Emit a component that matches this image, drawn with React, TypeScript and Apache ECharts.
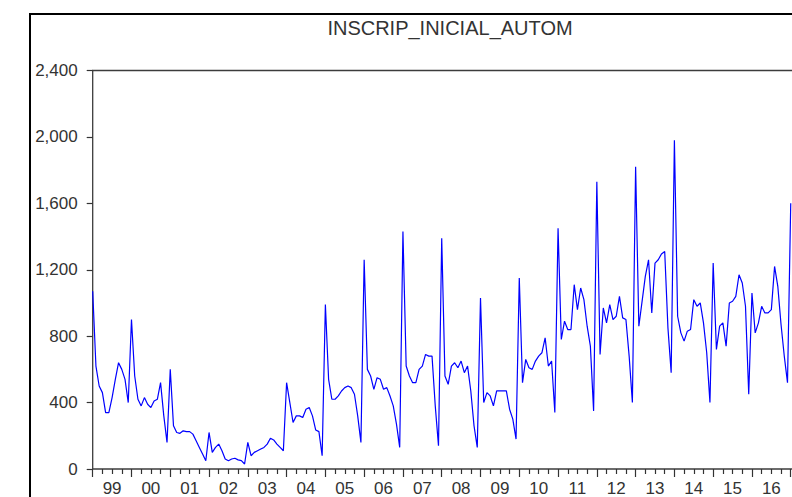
import React, { useEffect, useRef } from "react";
import * as echarts from "echarts";

const TITLE = "INSCRIP_INICIAL_AUTOM";
const START_YEAR = 1999;

// monthly values, one array per year
const y1999 = [1070, 620, 500, 460, 340, 340, 430, 540, 640, 600, 540, 400];
const y2000 = [900, 560, 420, 380, 430, 390, 370, 410, 420, 520, 320, 160];
const y2001 = [600, 260, 220, 215, 230, 225, 225, 210, 170, 130, 90, 50];
const y2002 = [220, 100, 130, 150, 110, 60, 50, 60, 65, 55, 50, 30];
const y2003 = [160, 80, 100, 110, 120, 130, 150, 185, 175, 150, 130, 110];
const y2004 = [520, 400, 280, 320, 320, 310, 360, 370, 320, 235, 225, 80];
const y2005 = [990, 540, 420, 420, 440, 470, 490, 500, 490, 450, 320, 160];
const y2006 = [1260, 600, 560, 480, 550, 540, 480, 490, 440, 380, 270, 130];
const y2007 = [1430, 620, 560, 520, 520, 600, 620, 690, 680, 680, 380, 140];
const y2008 = [1390, 560, 510, 620, 640, 610, 650, 580, 620, 470, 260, 130];
const y2009 = [1030, 400, 460, 440, 380, 470, 470, 470, 470, 360, 300, 180];
const y2010 = [1150, 520, 660, 610, 600, 650, 680, 700, 790, 620, 650, 340];
const y2011 = [1450, 780, 890, 840, 840, 1110, 960, 1090, 1020, 860, 740, 350];
const y2012 = [1730, 690, 970, 880, 990, 900, 920, 1040, 910, 900, 680, 400];
const y2013 = [1820, 860, 1010, 1160, 1260, 940, 1240, 1260, 1295, 1310, 850, 580];
const y2014 = [1980, 920, 820, 770, 830, 840, 1020, 980, 1000, 880, 700, 400];
const y2015 = [1240, 720, 860, 880, 740, 1000, 1010, 1040, 1170, 1120, 980, 450];
const y2016 = [1060, 820, 880, 980, 940, 940, 960, 1220, 1100, 870, 680, 520];
const y2017 = [1600];

const values: number[] = [
  ...y1999, ...y2000, ...y2001, ...y2002, ...y2003, ...y2004, ...y2005,
  ...y2006, ...y2007, ...y2008, ...y2009, ...y2010, ...y2011, ...y2012,
  ...y2013, ...y2014, ...y2015, ...y2016, ...y2017,
];

// the axis runs a little past the last observation (cut off by the frame)
const EXTRA_MONTHS = 2;
const categories: string[] = [];
for (let i = 0; i < values.length + EXTRA_MONTHS; i++) {
  const yr = START_YEAR + Math.floor(i / 12);
  const m = (i % 12) + 1;
  categories.push(`${yr}M${String(m).padStart(2, "0")}`);
}

const Y_MIN = 0;
const Y_MAX = 2400;
const Y_STEP = 400;

const FONT = "'Liberation Sans', Arial, sans-serif";

export default function App() {
  const ref = useRef<HTMLDivElement>(null);
  useEffect(() => {
    if (!ref.current) return;
    const chart = echarts.init(ref.current, undefined, { renderer: "svg" });
    chart.setOption({
      animation: false,
      backgroundColor: "#ffffff",
      textStyle: { fontFamily: FONT },
      grid: {
        show: true,
        left: 92.7,
        top: 70.5,
        width: 704.5,
        height: 400,
        borderColor: "#3c3c3c",
        borderWidth: 1.3,
        backgroundColor: "transparent",
      },
      xAxis: [
        {
          type: "category",
          data: categories,
          boundaryGap: false,
          position: "bottom",
          axisLine: { show: false },
          axisTick: {
            show: true,
            length: 8,
            interval: (index: number) => index % 12 === 0,
            lineStyle: { color: "#333", width: 1.2 },
          },
          axisLabel: {
            show: true,
            interval: (index: number) => index % 12 === 6,
            formatter: (v: string) => v.slice(2, 4),
            fontSize: 17,
            color: "#333",
            margin: 11,
            fontFamily: FONT,
          },
          splitLine: { show: false },
        },
        {
          type: "category",
          data: categories,
          boundaryGap: false,
          position: "bottom",
          axisLine: { show: false },
          axisTick: {
            show: true,
            length: 5,
            interval: (index: number) => index % 3 === 0 && index % 12 !== 0,
            lineStyle: { color: "#333", width: 1.2 },
          },
          axisLabel: { show: false },
          splitLine: { show: false },
        },
      ],
      yAxis: {
        type: "value",
        min: Y_MIN,
        max: Y_MAX,
        interval: Y_STEP,
        axisLine: { show: false },
        axisTick: { show: true, length: 6, lineStyle: { color: "#333", width: 1.2 } },
        axisLabel: {
          fontSize: 17,
          color: "#333",
          margin: 15,
          fontFamily: FONT,
          formatter: (v: number) => v.toLocaleString("en-US"),
        },
        splitLine: { show: false },
      },
      series: [
        {
          type: "line",
          data: values,
          xAxisIndex: 0,
          symbol: "none",
          smooth: false,
          lineStyle: { color: "#0000ff", width: 1.2 },
        },
      ],
      graphic: [
        {
          type: "rect",
          shape: { x: 30, y: 14, width: 820, height: 520 },
          style: { fill: "none", stroke: "#000", lineWidth: 2 },
          silent: true,
        },
        {
          type: "text",
          x: 450,
          y: 28,
          style: {
            text: TITLE,
            fill: "#333",
            font: `20px ${FONT}`,
            textAlign: "center",
            textVerticalAlign: "middle",
          },
        },
      ],
    });
    return () => chart.dispose();
  }, []);
  return (
    <div
      style={{
        position: "fixed",
        left: 0,
        top: 0,
        width: 792,
        height: 497,
        overflow: "hidden",
        background: "#fff",
      }}
    >
      <div ref={ref} style={{ width: 840, height: 497 }} />
    </div>
  );
}
